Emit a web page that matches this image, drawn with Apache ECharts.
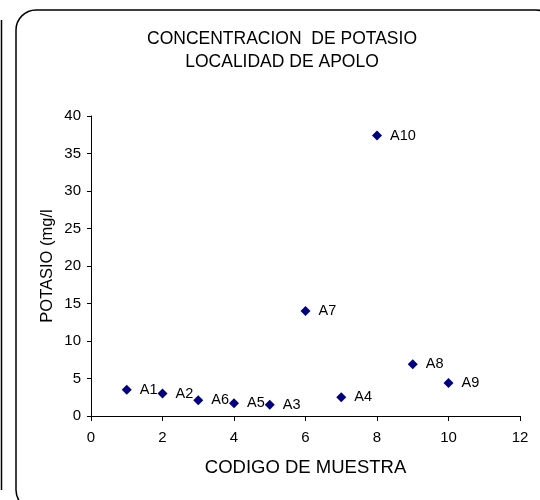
<!DOCTYPE html>
<html>
<head>
<meta charset="utf-8">
<script src="https://cdn.jsdelivr.net/npm/echarts@6/dist/echarts.min.js"></script>
<style>
  html, body { margin: 0; padding: 0; background: #fff; }
  #chart { width: 540px; height: 500px; }
</style>
</head>
<body>
<div id="chart"></div>
<script>
// muestras
const labels = ["A1", "A2", "A6", "A5", "A3", "A7", "A4", "A10", "A8", "A9"];
const codigo = [1, 2, 3, 4, 5, 6, 7, 8, 9, 10];
const potasio = [3.5, 3.0, 2.1, 1.7, 1.5, 14.0, 2.5, 37.4, 6.9, 4.4];

const font = "Liberation Sans, Arial, sans-serif";

const chart = echarts.init(document.getElementById("chart"));
chart.setOption({
  animation: false,
  graphic: [
    {
      type: "rect",
      shape: { x: 16, y: 10, width: 540, height: 500, r: 20 },
      style: { fill: "none", stroke: "#000", lineWidth: 1.5 },
      z: -1
    },
    {
      type: "line",
      shape: { x1: 1.5, y1: 20, x2: 1.5, y2: 490 },
      style: { stroke: "#000", lineWidth: 1.5 }
    }
  ],
  title: {
    text: "CONCENTRACION  DE POTASIO\nLOCALIDAD DE APOLO",
    left: 277,
    top: 23,
    textAlign: "center",
    textStyle: { fontFamily: font, fontSize: 17.5, fontWeight: "normal", color: "#000", lineHeight: 23 }
  },
  grid: { left: 91, right: 20, top: 116, bottom: 84 },
  xAxis: {
    type: "value",
    min: 0, max: 12, interval: 2,
    name: "CODIGO DE MUESTRA",
    nameLocation: "middle",
    nameGap: 42,
    nameTextStyle: { fontFamily: font, fontSize: 18.5, color: "#000" },
    axisLine: { lineStyle: { color: "#000", width: 1 } },
    axisTick: { show: true, inside: false, length: 5, lineStyle: { color: "#000" } },
    axisLabel: { fontFamily: font, fontSize: 15, color: "#000", margin: 14 },
    splitLine: { show: false }
  },
  yAxis: {
    type: "value",
    min: 0, max: 40, interval: 5,
    name: "POTASIO (mg/l",
    nameLocation: "middle",
    nameGap: 35,
    nameMoveOverlap: false,
    nameTextStyle: { fontFamily: font, fontSize: 16.5, color: "#000" },
    axisLine: { show: true, lineStyle: { color: "#000", width: 1 } },
    axisTick: { show: true, inside: false, length: 4, lineStyle: { color: "#000" } },
    axisLabel: { fontFamily: font, fontSize: 15, color: "#000", margin: 10 },
    splitLine: { show: false }
  },
  series: [
    {
      type: "scatter",
      symbol: "diamond",
      symbolSize: 10,
      itemStyle: { color: "#000080", opacity: 1 },
      data: codigo.map((x, i) => ({ name: labels[i], value: [x, potasio[i]] })),
      label: {
        show: true,
        position: "right",
        distance: 8,
        formatter: (p) => p.name,
        fontFamily: font,
        fontSize: 14.5,
        color: "#000"
      }
    }
  ]
});
</script>
</body>
</html>
